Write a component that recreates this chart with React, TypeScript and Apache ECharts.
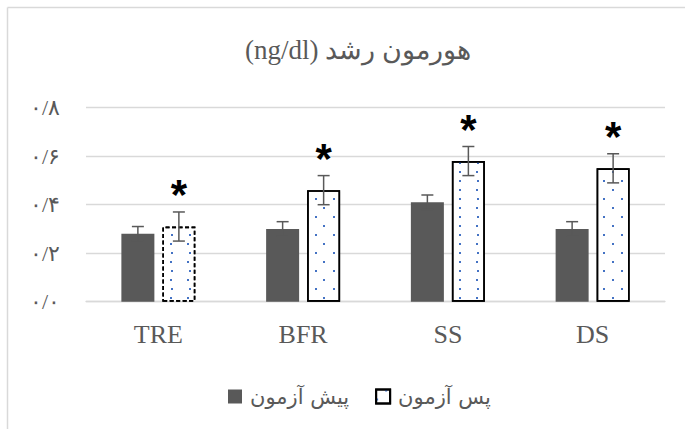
import React, { useEffect, useRef } from "react";
import * as echarts from "echarts";

const categories = ["TRE", "BFR", "SS", "DS"];
const preValues = [0.28, 0.3, 0.41, 0.3];
const preErrors = [0.03, 0.03, 0.03, 0.03];
const postValues = [0.31, 0.46, 0.58, 0.55];
const postErrors = [0.06, 0.06, 0.06, 0.06];
const postSignificant = [true, true, true, true];
const yTickLabels = ["۰/۰", "۰/۲", "۰/۴", "۰/۶", "۰/۸"];
const seriesNames = ["پیش آزمون", "پس آزمون"];
const titleText = "(ng/dl) هورمون رشد";

const BAR_W = 33;
const BAR_GAP = 8;

export default function App() {
  const ref = useRef<HTMLDivElement>(null);
  useEffect(() => {
    if (!ref.current) return;
    const chart = echarts.init(ref.current, null, { renderer: "svg" });
    const errData: number[][] = [];
    categories.forEach((_, i) => {
      errData.push([i, preValues[i], preErrors[i], -1, 0]);
      errData.push([i, postValues[i], postErrors[i], 1, postSignificant[i] ? 1 : 0]);
    });
    const decal = {
      symbol: "rect",
      symbolSize: 1,
      color: "#4472c4",
      dashArrayX: [
        [2, 15],
        [0, 8.5, 2, 6.5],
      ],
      dashArrayY: [2, 6.5],
    };
    chart.setOption({
      animation: false,
      title: {
        text: titleText,
        left: 353,
        top: 31,
        textAlign: "center",
        textStyle: {
          fontSize: 27,
          fontWeight: "normal",
          color: "#595959",
          fontFamily: "Liberation Serif",
        },
      },
      graphic: [
        {
          type: "line",
          shape: { x1: 7.5, y1: 7.5, x2: 685, y2: 7.5 },
          style: { stroke: "#d9d9d9", lineWidth: 1.5 },
        },
        {
          type: "line",
          shape: { x1: 7.5, y1: 7.5, x2: 7.5, y2: 429 },
          style: { stroke: "#d9d9d9", lineWidth: 1.5 },
        },
      ],
      legend: {
        data: seriesNames,
        left: 223,
        top: 381,
        icon: "rect",
        itemWidth: 14,
        itemHeight: 14,
        itemGap: 26,
        textStyle: {
          fontSize: 21,
          color: "#595959",
          fontFamily: "DejaVu Sans",
          padding: [0, 0, 0, 3],
        },
      },
      grid: { left: 86, right: 20, top: 107.7, bottom: 127.3 },
      xAxis: {
        type: "category",
        data: categories,
        axisTick: { show: false },
        axisLine: { lineStyle: { color: "#d9d9d9", width: 1.3 } },
        axisLabel: {
          fontSize: 26,
          color: "#595959",
          fontFamily: "Liberation Serif",
          margin: 20,
        },
      },
      yAxis: {
        type: "value",
        min: 0,
        max: 0.8,
        interval: 0.2,
        axisLine: { show: false },
        axisTick: { show: false },
        splitLine: { lineStyle: { color: "#d9d9d9", width: 1.3 } },
        axisLabel: {
          fontSize: 22,
          color: "#595959",
          margin: 26,
          fontFamily: "Liberation Serif",
          formatter: (_v: number, idx: number) => yTickLabels[idx],
        },
      },
      series: [
        {
          name: seriesNames[0],
          type: "bar",
          barWidth: BAR_W,
          barGap: (BAR_GAP / BAR_W) * 100 + "%",
          data: preValues,
          itemStyle: { color: "#595959" },
        },
        {
          name: seriesNames[1],
          type: "bar",
          barWidth: BAR_W,
          barGap: (BAR_GAP / BAR_W) * 100 + "%",
          data: postValues.map((v, i) =>
            i === 0
              ? { value: v, itemStyle: { borderType: [4, 2.5] } }
              : v
          ),
          itemStyle: {
            color: "#ffffff",
            borderColor: "#000000",
            borderWidth: 1.6,
            decal,
          },
        },
        {
          type: "custom",
          z: 5,
          silent: true,
          encode: { x: 0, y: 1 },
          data: errData,
          renderItem: (_params: any, api: any) => {
            const idx = api.value(0);
            const mean = api.value(1);
            const err = api.value(2);
            const side = api.value(3);
            const star = api.value(4);
            const top = api.coord([idx, mean + err]);
            const bot = api.coord([idx, mean - err]);
            const x = top[0] + side * ((BAR_W + BAR_GAP) / 2);
            const cap = 6;
            const st = { stroke: "#595959", lineWidth: 1.5 };
            const children: any[] = [
              { type: "line", shape: { x1: x, y1: top[1], x2: x, y2: bot[1] }, style: st },
              { type: "line", shape: { x1: x - cap, y1: top[1], x2: x + cap, y2: top[1] }, style: st },
              { type: "line", shape: { x1: x - cap, y1: bot[1], x2: x + cap, y2: bot[1] }, style: st },
            ];
            if (star) {
              children.push({
                type: "text",
                x: x,
                y: top[1] - 17,
                style: {
                  text: "*",
                  fontSize: 42,
                  fontWeight: "bold",
                  fontFamily: "Liberation Sans",
                  fill: "#000000",
                  align: "center",
                  verticalAlign: "middle",
                },
              });
            }
            return { type: "group", children };
          },
        },
      ],
    });
    return () => chart.dispose();
  }, []);
  return (
    <div
      ref={ref}
      style={{ position: "fixed", left: 0, top: 0, width: 685, height: 429, background: "#fff" }}
    />
  );
}
